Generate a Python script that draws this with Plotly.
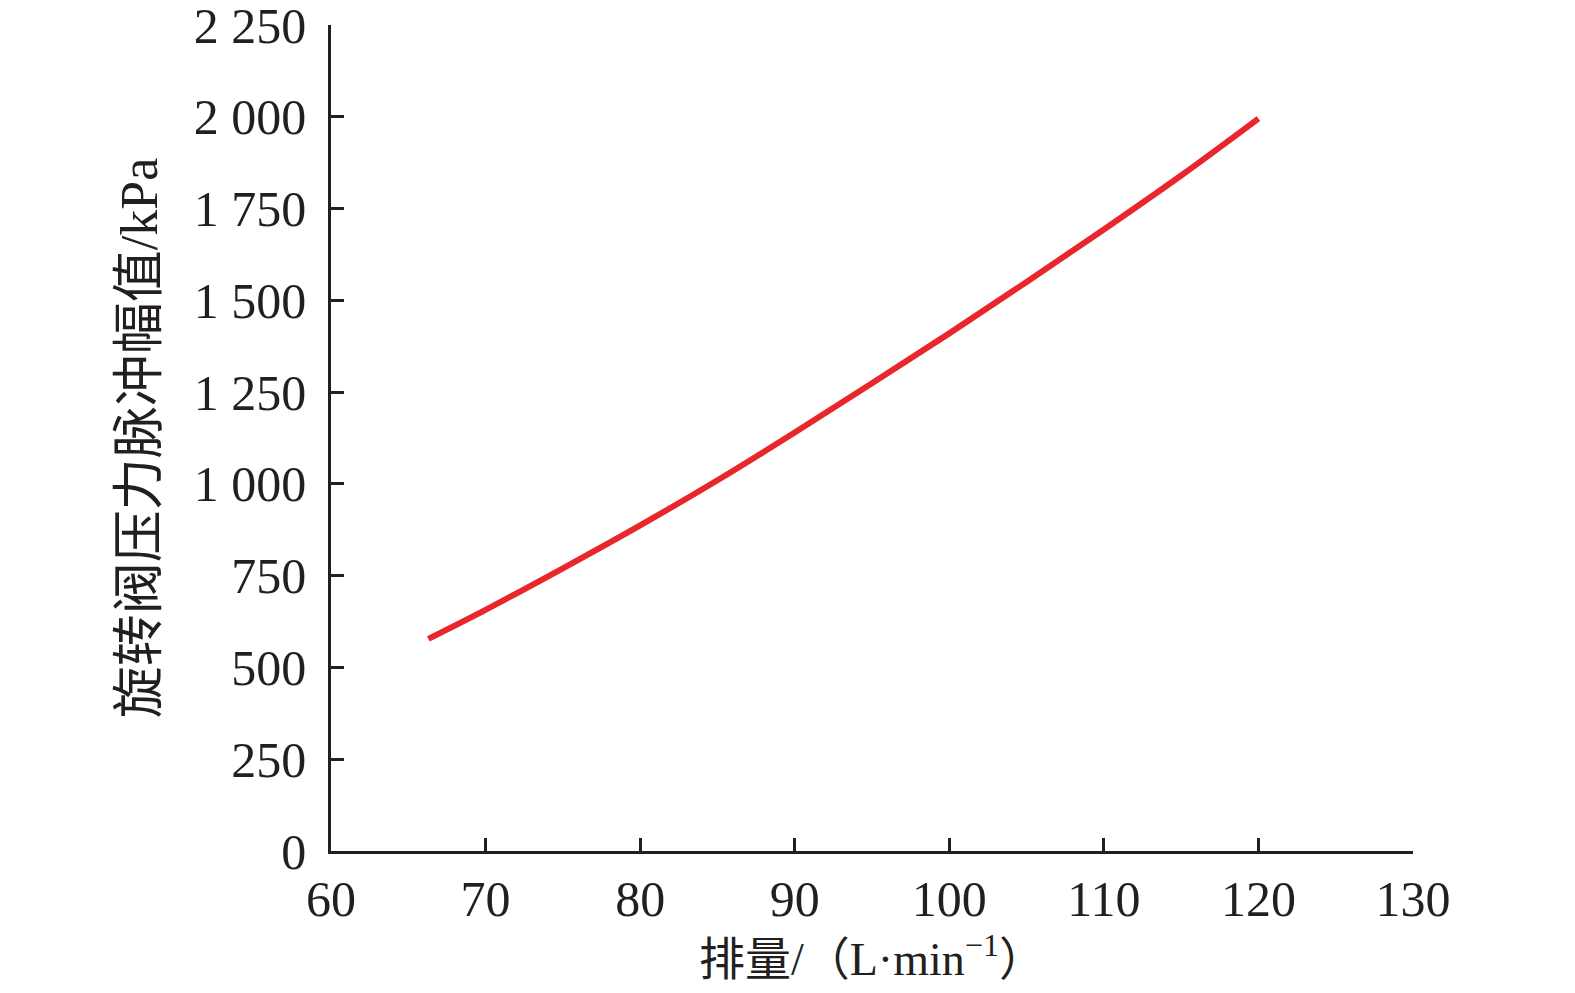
"""Rotary valve pressure pulse amplitude vs. displacement."""
import plotly.graph_objects as go

# Data
flow = [66.3, 70, 75, 80, 85, 90, 95, 100, 105, 110, 115, 120]
amp = [578, 657, 770, 887, 1010, 1140, 1274, 1410, 1550, 1693, 1840, 1995]

x_ticks = [60, 70, 80, 90, 100, 110, 120, 130]
y_ticks = [0, 250, 500, 750, 1000, 1250, 1500, 1750, 2000, 2250]
y_text = ['0', '250', '500', '750', '1 000', '1 250', '1 500', '1 750', '2 000', '2 250']

INK = '#231f20'
RED = '#e8262c'
FONT = 'Liberation Serif, Times New Roman, Noto Sans CJK SC, serif'


def ax(title, vals, text, rng, tsize):
    return dict(title=dict(text=title, font=dict(size=tsize, color=INK, family=FONT)),
                range=rng, tickvals=vals, ticktext=text,
                showgrid=False, zeroline=False, showline=True,
                linecolor=INK, linewidth=2.5, automargin=False,
                ticks='inside', ticklen=13, tickwidth=2.5, tickcolor=INK,
                ticklabeloverflow='allow',
                tickfont=dict(size=50, color=INK, family=FONT))


fig = go.Figure()
fig.add_trace(go.Scatter(x=flow, y=amp, mode='lines', line_shape='spline',
                         line=dict(color=RED, width=6), showlegend=False))

# page body has an 8px margin, so the figure is drawn 8px smaller
fig.update_layout(
    width=1567, height=985,
    paper_bgcolor='white', plot_bgcolor='white',
    margin=dict(l=323, r=162, t=17, b=142),
    xaxis=ax('排量/（L·min<sup>−1</sup>）', x_ticks, [str(v) for v in x_ticks], [60, 130], 46),
    yaxis=ax('旋转阀压力脉冲幅值/kPa', y_ticks, y_text, [0, 2250], 52),
)
fig.update_xaxes(title_standoff=4, ticklabelstandoff=2)
fig.update_yaxes(title_standoff=20, ticklabelstandoff=12)

fig.write_html('out.html')
